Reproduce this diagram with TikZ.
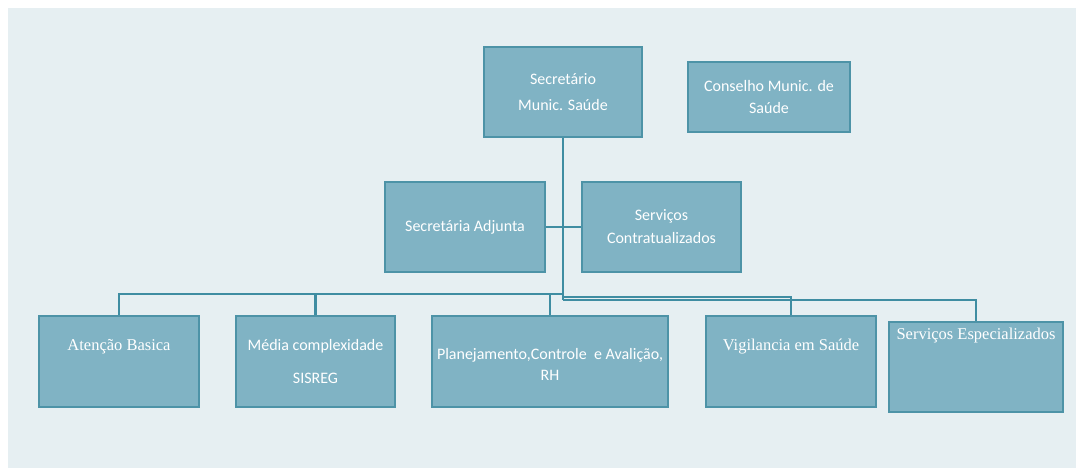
\documentclass[tikz,border=0pt]{standalone}
\usepackage{fontspec}
\setmainfont{Carlito}
\newfontfamily\serifface{Liberation Serif}
\usetikzlibrary{positioning, calc}

\definecolor{panelbg}{HTML}{E6EFF2}
\definecolor{boxfill}{HTML}{80B3C4}
\definecolor{boxline}{HTML}{4D93A7}
\definecolor{linkc}{HTML}{3F8DA2}

\begin{document}
\begin{tikzpicture}[
  x=1pt, y=-1pt,
  font=\fontsize{16}{19}\selectfont,
  unit/.style={draw=boxline, fill=boxfill, line width=1.6pt, inner sep=0pt,
               minimum width=#1, text=white, align=center},
  unit/.default=160pt,
  tag/.style={text=white, align=center, inner sep=0pt},
  link/.style={draw=linkc, line width=2.4pt},
]
% Panel
\useasboundingbox (0,0) rectangle (1083,468);
\fill[panelbg] (8,8) rectangle (1076,468);

% Top level
\node[unit=158pt, minimum height=90pt, font=\fontsize{16}{26}\selectfont] (sec) at (563,92)
  {Secretário\\Munic. Saúde};
\node[unit=162pt, minimum height=70pt, font=\fontsize{16}{22}\selectfont] (cons) at (769,97)
  {Conselho Munic. de\\Saúde};

% Second level
\node[unit=160pt, minimum height=90pt] (adj) at (465,227) {Secretária Adjunta};
\node[unit=159pt, minimum height=90pt, font=\fontsize{16}{23}\selectfont] (contr) at (661.5,227)
  {Serviços\\Contratualizados};

% Bottom row
\node[unit=160pt, minimum height=91pt] (aten) at (119,361.5) {};
\node[unit=159pt, minimum height=91pt, font=\fontsize{16}{33}\selectfont] (media) at (315.5,361.5)
  {Média complexidade\\SISREG};
\node[unit=236pt, minimum height=91pt] (plan) at (550,361.5) {};
\node[unit=170pt, minimum height=91pt] (vig) at (791,361.5) {};
\node[unit=174pt, minimum height=90pt] (esp) at (976,367) {};

% Labels placed inside the bottom boxes
\node[tag, font=\serifface\fontsize{16.5}{19}\selectfont] (atenT) at ($(aten.north)+(0,31)$) {Atenção Basica};
\node[tag, font=\fontsize{16}{21}\selectfont] (planT) at ($(plan.north)+(0,49.5)$)
  {Planejamento,Controle\ \ e Avalição,\\RH};
\node[tag, font=\serifface\fontsize{16.5}{19}\selectfont] (vigT) at ($(vig.north)+(0,31)$) {Vigilancia em Saúde};
\node[tag, font=\serifface\fontsize{16.5}{19}\selectfont] (espT) at ($(esp.north)+(0,14)$) {Serviços Especializados};

% Connectors
\coordinate (busL) at (563,294);
\coordinate (busV) at (563,297);
\coordinate (busE) at (563,300);
\draw[link] (sec.south) -- (busE);
\draw[link] (adj.east) -- (contr.west);
\foreach \n in {aten, media, plan}
  \draw[link] (busL) -| (\n.north);
\draw[link] (busV) -| (vig.north);
\draw[link] (busE) -| (esp.north);
\end{tikzpicture}
\end{document}
